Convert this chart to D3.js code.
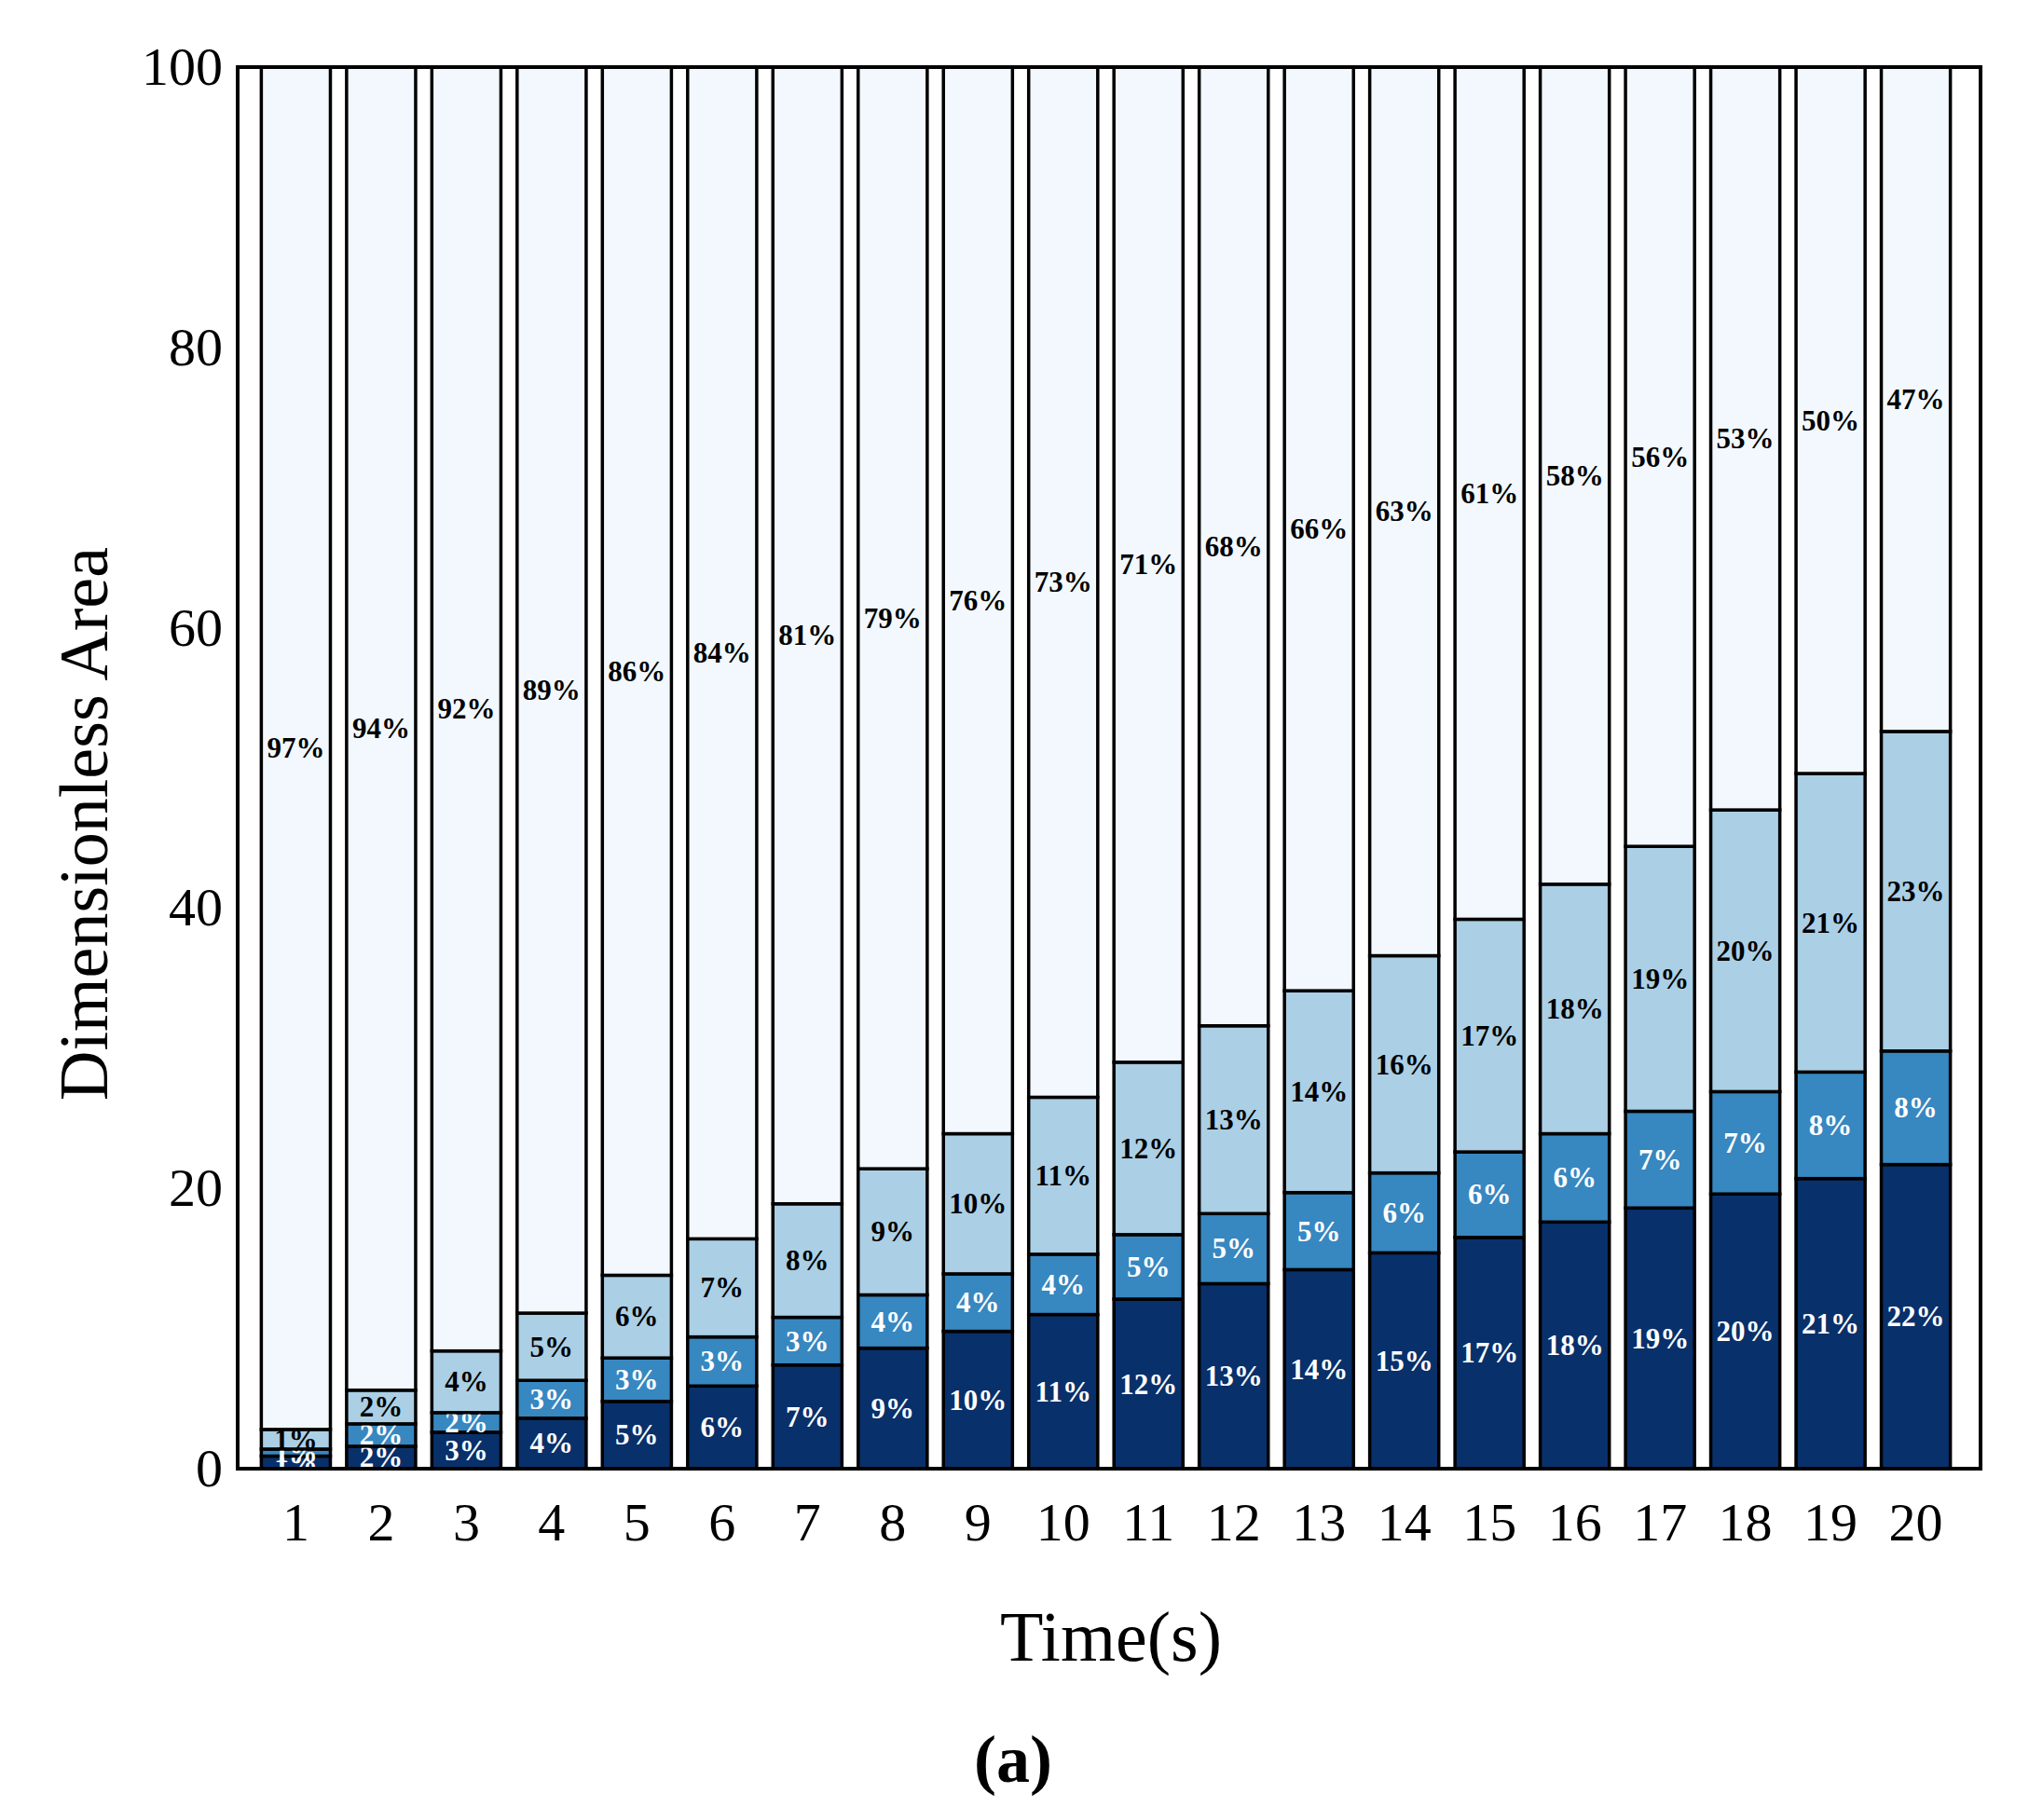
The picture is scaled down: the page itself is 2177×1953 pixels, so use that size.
<!DOCTYPE html>
<html><head><meta charset="utf-8">
<script src="https://cdn.jsdelivr.net/npm/d3@7"></script>
<style>body{margin:0;background:#fff}svg{display:block}</style></head>
<body><svg id="c" width="2177" height="1953"></svg>
<script>
const categories = d3.range(1,21).map(String);
const darkVals  = [0.9,1.6,2.6,3.6,4.8,5.9,7.4,8.6,9.8,11.0,12.1,13.2,14.2,15.4,16.5,17.6,18.6,19.6,20.7,21.7];
const midVals   = [0.5,1.6,1.4,2.7,3.1,3.5,3.4,3.8,4.1,4.3,4.6,5.0,5.5,5.7,6.1,6.3,6.9,7.3,7.6,8.1];
const lightVals = [1.4,2.4,4.4,4.8,5.9,7.0,8.1,9.0,10.0,11.2,12.3,13.4,14.4,15.5,16.6,17.8,18.9,20.1,21.3,22.8];
const darkLbl  = [1,2,3,4,5,6,7,9,10,11,12,13,14,15,17,18,19,20,21,22];
const midLbl   = [1,2,2,3,3,3,3,4,4,4,5,5,5,6,6,6,7,7,8,8];
const lightLbl = [1,2,4,5,6,7,8,9,10,11,12,13,14,16,17,18,19,20,21,23];
const topLbl   = [97,94,92,89,86,84,81,79,76,73,71,68,66,63,61,58,56,53,50,47];
const yTicks = [0,20,40,60,80,100];

const series = [
 {vals:darkVals, lbl:darkLbl, fill:"#08306b", txt:"#fff"},
 {vals:midVals, lbl:midLbl, fill:"#3787c0", txt:"#fff"},
 {vals:lightVals, lbl:lightLbl, fill:"#abcfe5", txt:"#000"},
 {vals:categories.map((c,i)=>100-darkVals[i]-midVals[i]-lightVals[i]), lbl:topLbl, fill:"#f2f8fd", txt:"#000"}
];
const L=255,R=2125,T=72,B=1576;
const svg=d3.select("#c");
const font="'Liberation Serif','Times New Roman',Times,serif";
const x=d3.scaleBand().domain(categories).range([263,2110]).padding(0.19);
const y=d3.scaleLinear().domain([0,100]).range([B,T]);
const g=svg.append("g");
categories.forEach((c,i)=>{
  let base=0;
  series.forEach(s=>{
    const v=s.vals[i];
    g.append("rect").attr("x",x(c)).attr("width",x.bandwidth())
     .attr("y",y(base+v)).attr("height",y(base)-y(base+v))
     .attr("fill",s.fill).attr("stroke","#000").attr("stroke-width",3.5);
    g.append("text").attr("x",x(c)+x.bandwidth()/2).attr("y",y(base+v/2))
     .attr("text-anchor","middle").attr("dominant-baseline","central")
     .attr("font-family",font).attr("font-weight","bold").attr("font-size",31)
     .attr("fill",s.txt).text(s.lbl[i]+"%");
    base+=v;
  });
});
svg.append("rect").attr("x",L).attr("y",T).attr("width",R-L).attr("height",B-T)
  .attr("fill","none").attr("stroke","#000").attr("stroke-width",4);
const ya=svg.append("g").attr("transform",`translate(${L},0)`)
  .call(d3.axisLeft(y).tickValues(yTicks).tickSize(0).tickPadding(16));
ya.select(".domain").remove();
ya.selectAll("text").attr("font-family",font).attr("font-size",58).attr("fill","#000");
const xa=svg.append("g").attr("transform",`translate(0,${B})`)
  .call(d3.axisBottom(x).tickSize(0).tickPadding(36));
xa.select(".domain").remove();
xa.selectAll("text").attr("font-family",font).attr("font-size",58).attr("fill","#000");
svg.append("text").attr("transform",`translate(90,${(T+B)/2+60}) rotate(-90)`)
  .attr("text-anchor","middle").attr("dominant-baseline","central")
  .attr("font-family",font).attr("font-size",74).text("Dimensionless Area");
svg.append("text").attr("x",1192).attr("y",1782).attr("text-anchor","middle")
  .attr("font-family",font).attr("font-size",76).text("Time(s)");
svg.append("text").attr("x",1087).attr("y",1912).attr("text-anchor","middle")
  .attr("font-family",font).attr("font-size",72).attr("font-weight","bold").text("(a)");
</script></body></html>
